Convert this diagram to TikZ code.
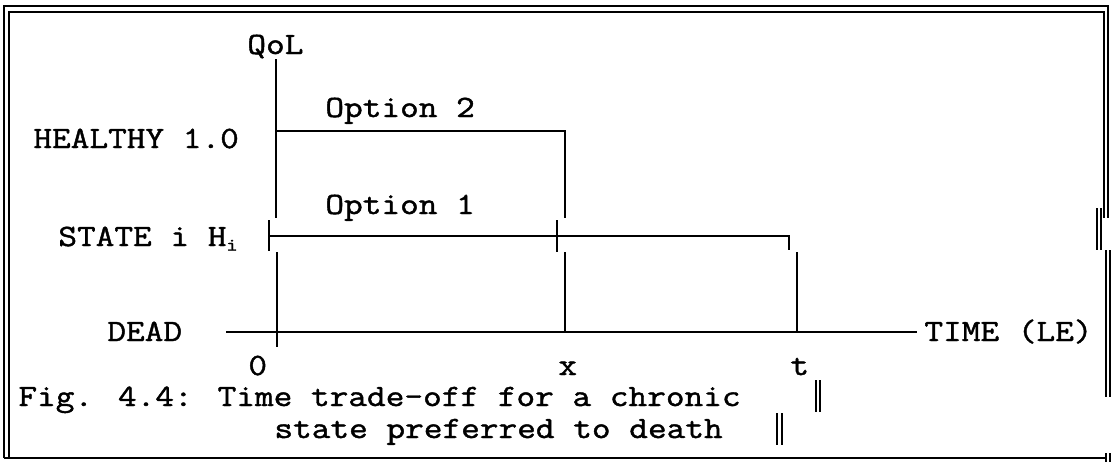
\documentclass[tikz,border=0pt]{standalone}
\usepackage{fontspec}
% typewriter face, widened to Courier-like character cells
\newfontfamily\tw{Latin Modern Mono}[FakeStretch=1.17, FakeBold=1.4]
\begin{document}
\begin{tikzpicture}[x=0.5pt,y=-0.5pt,
  graphline/.style={line width=1.35pt, line cap=butt},
  frameline/.style={line width=1pt},
  barline/.style={line width=0.9pt},
  lbl/.style={anchor=base west, inner sep=0pt, font=\tw\fontsize{15.5}{18}\selectfont}]
\useasboundingbox (0,0) rectangle (1115,462);

% ---- typed frame ----
\draw[frameline] (4,458) -- (4,6) -- (1108,6) -- (1108,218);
\draw[frameline] (9,458) -- (9,12) -- (1104,12) -- (1104,218);
\draw[frameline] (1097,208) -- (1097,250) (1101,208) -- (1101,250);
\draw[frameline] (1106,250) -- (1106,397) (1110,250) -- (1110,397);
\draw[frameline] (4,458) -- (1105,458);
\draw[frameline] (1106,453) -- (1106,462) (1110,453) -- (1110,462);

% ---- key points of the trade-off chart ----
\coordinate (qolTop)   at (276,59);
\coordinate (qolLow)   at (276,218);
\coordinate (hTop)     at (276,131);
\coordinate (hCorner)  at (565,131);
\coordinate (hEnd)     at (565,218);
\coordinate (sTickA)   at (269,220);
\coordinate (sTickB)   at (269,251);
\coordinate (sStart)   at (269,236);
\coordinate (sMidA)    at (557,220);
\coordinate (sMidB)    at (557,252);
\coordinate (sCorner)  at (789,236);
\coordinate (sEnd)     at (789,250);
\coordinate (zeroTop)  at (277,252);
\coordinate (zeroLow)  at (277,347);
\coordinate (xTop)     at (565,252);
\coordinate (xLow)     at (565,332);
\coordinate (tTop)     at (797,252);
\coordinate (tLow)     at (797,332);
\coordinate (deadL)    at (226,332);
\coordinate (deadR)    at (917,332);

% QoL axis and option 2 (healthy until x)
\draw[graphline] (qolTop) -- (qolLow);
\draw[graphline] (hTop) -- (hCorner) -- (hEnd);
% option 1 (state i until t)
\draw[graphline] (sTickA) -- (sTickB);
\draw[graphline] (sStart) -- (sCorner) -- (sEnd);
\draw[graphline] (sMidA) -- (sMidB);
% drops to the time axis
\draw[graphline] (zeroTop) -- (zeroLow);
\draw[graphline] (xTop) -- (xLow);
\draw[graphline] (tTop) -- (tLow);
% time axis
\draw[graphline] (deadL) -- (deadR);

% ---- labels ----
\node[lbl] (qol)     at (247,54)  {QoL};
\node[lbl] (opt2)    at (325,117) {Option 2};
\node[lbl] (healthy) at (33,148)  {HEALTHY 1.0};
\node[lbl] (opt1)    at (325,214) {Option 1};
\node[lbl] (state)   at (58,246)  {STATE i H\raisebox{-0.35ex}{\fontsize{9}{9}\selectfont i}};
\node[lbl] (dead)    at (107,341) {DEAD};
\node[lbl] (time)    at (924,341) {TIME (LE)};
\node[lbl] (zero)    at (248,375) {0};
\node[lbl] (xlab)    at (558,375) {x};
\node[lbl] (tlab)    at (790,375) {t};
\node[lbl] (cap1)    at (18,406)  {Fig. 4.4: Time trade-off for a chronic};
\node[lbl] (cap2)    at (274,438) {state preferred to death};

% typed bars beside the caption
\draw[barline] (816,380) -- (816,412) (820,380) -- (820,412);
\draw[barline] (777,413) -- (777,445) (782,413) -- (782,445);
\end{tikzpicture}
\end{document}
